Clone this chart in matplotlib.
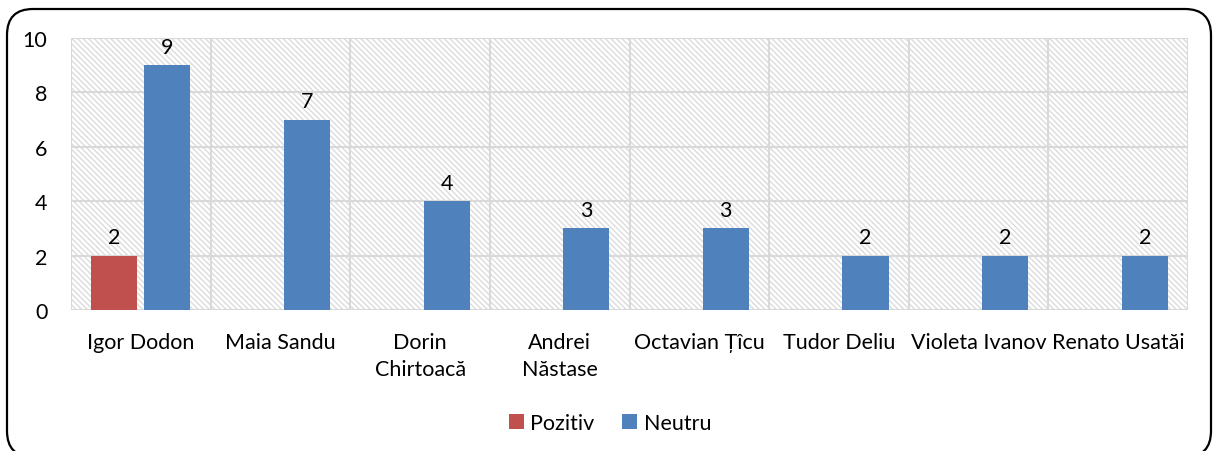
import numpy as np
import matplotlib
matplotlib.use('Agg')
import matplotlib.pyplot as plt
from matplotlib.patches import Rectangle, FancyBboxPatch

plt.rcParams['font.family'] = ['Lato', 'Noto Sans', 'DejaVu Sans']

names = ['Igor Dodon', 'Maia Sandu', 'Dorin\nChirtoacă', 'Andrei\nNăstase',
         'Octavian Țîcu', 'Tudor Deliu', 'Violeta Ivanov', 'Renato Usatăi']
pozitiv = [2, 0, 0, 0, 0, 0, 0, 0]
neutru = [9, 7, 4, 3, 3, 2, 2, 2]
yticks = [0, 2, 4, 6, 8, 10]

red = '#C0504D'
blue = '#4F81BD'
grid = '#d9d9d9'
fs = 15.5

fig = plt.figure(figsize=(12.13, 4.52), dpi=100)
ax = fig.add_axes([71/1213, 1-311/452, (1188-71)/1213, (311-39)/452])

x = np.arange(len(names))
w = 0.33
off = 0.19

# hatched background
ax.add_patch(Rectangle((0, 0), 1, 1, transform=ax.transAxes, facecolor='white',
                       edgecolor='#dcdcdc', hatch='\\\\\\\\\\\\', lw=0, zorder=0))

for yv in yticks:
    ax.axhline(yv, color=grid, lw=1.5, zorder=1)
for xv in np.arange(-0.5, len(names), 1.0):
    ax.axvline(xv, color=grid, lw=1.5, zorder=1)

b1 = ax.bar(x - off, pozitiv, w, color=red, zorder=2, label='Pozitiv')
b2 = ax.bar(x + off, neutru, w, color=blue, zorder=2, label='Neutru')

for xi, v in zip(x, pozitiv):
    if v > 0:
        ax.text(xi - off, v + 0.3, str(v), ha='center', va='bottom', fontsize=fs)
for xi, v in zip(x, neutru):
    ax.text(xi + off, v + 0.3, str(v), ha='center', va='bottom', fontsize=fs)

ax.set_xlim(-0.5, len(names) - 0.5)
ax.set_ylim(0, 10)
ax.set_yticks(yticks)
ax.set_xticks(x)
ax.set_xticklabels(names, fontsize=fs, linespacing=1.4, va='top')
ax.tick_params(axis='y', length=0, pad=17, labelsize=fs)
ax.tick_params(axis='x', length=0, pad=16)
for s in ax.spines.values():
    s.set_visible(False)
ax.patch.set_visible(False)

fig.legend(handles=[b1, b2], labels=['Pozitiv', 'Neutru'], loc='center',
           bbox_to_anchor=(610/1213, 1-424/452), ncol=2, frameon=False,
           fontsize=fs, handlelength=0.7, handleheight=0.7,
           handletextpad=0.3, columnspacing=1.3)

border = FancyBboxPatch((0.07, -0.06), 12.04, 4.48,
                        boxstyle='round,pad=0,rounding_size=0.26',
                        transform=fig.dpi_scale_trans, facecolor='none',
                        edgecolor='black', lw=1.6)
fig.patches.append(border)

fig.savefig('out.png', dpi=100)
